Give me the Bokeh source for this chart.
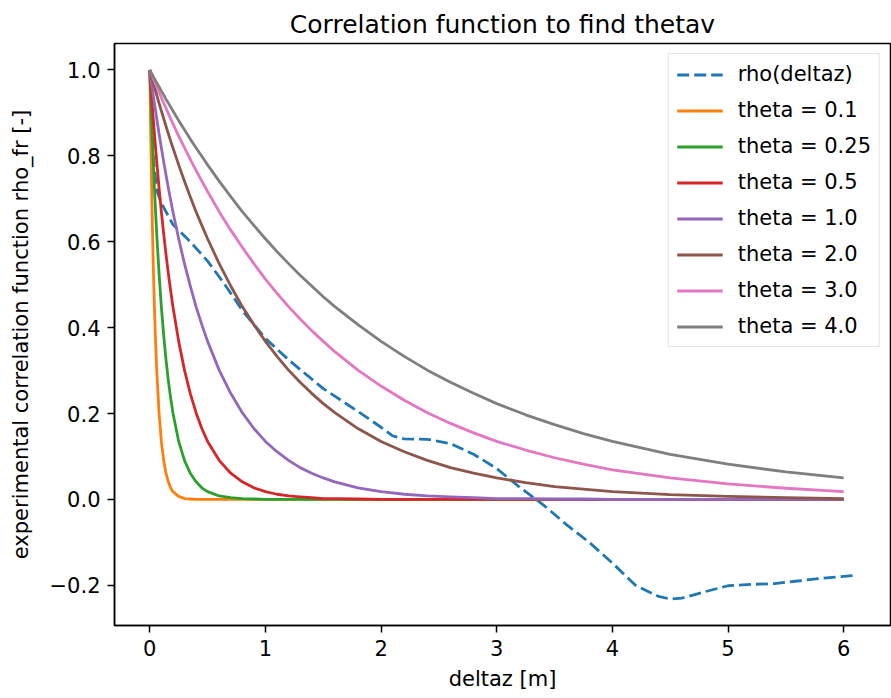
from bokeh.plotting import figure
from bokeh.models import Range1d, FixedTicker, Legend, LegendItem
from bokeh.embed import file_html
from bokeh.resources import INLINE

# ---- experimental correlation function ----
deltaz_rho = [0.0, 0.03, 0.06, 0.1, 0.2, 0.35, 0.5, 0.65, 0.8, 1.0, 1.2, 1.5, 1.8,
              2.0, 2.1, 2.2, 2.4, 2.6, 2.8, 3.0, 3.2, 3.4, 3.6, 3.8, 4.0, 4.2, 4.4,
              4.5, 4.6, 4.8, 5.0, 5.2, 5.4, 5.6, 5.8, 6.0, 6.1]
rho_exp = [1.0, 0.80, 0.72, 0.69, 0.64, 0.60, 0.555, 0.50, 0.44, 0.375, 0.325, 0.258, 0.205,
           0.168, 0.148, 0.141, 0.140, 0.130, 0.105, 0.072, 0.028, -0.012, -0.058, -0.100, -0.148,
           -0.200, -0.226, -0.232, -0.230, -0.215, -0.201, -0.198, -0.196, -0.190, -0.184, -0.179, -0.177]

# ---- theoretical correlation curves ----
deltaz_theta = [0.0, 0.01, 0.02, 0.03, 0.04, 0.05, 0.06, 0.08, 0.1, 0.12, 0.14, 0.16, 0.18, 0.2,
                0.25, 0.3, 0.35, 0.4, 0.45, 0.5,
                0.6, 0.7, 0.8, 0.9, 1.0, 1.1, 1.2, 1.3, 1.4, 1.5, 1.6,
                1.8, 2.0, 2.2, 2.4, 2.6, 2.8, 3.0,
                3.25, 3.5, 3.75, 4.0, 4.5, 5.0, 5.5, 6.0]
rho_theta_0_1 = [1.0, 0.819, 0.670, 0.549, 0.449, 0.368, 0.301, 0.202, 0.135, 0.091, 0.061, 0.041, 0.027, 0.018,
                 0.007, 0.002, 0.001, 0.0, 0.0, 0.0,
                 0.0, 0.0, 0.0, 0.0, 0.0, 0.0, 0.0, 0.0, 0.0, 0.0, 0.0,
                 0.0, 0.0, 0.0, 0.0, 0.0, 0.0, 0.0,
                 0.0, 0.0, 0.0, 0.0, 0.0, 0.0, 0.0, 0.0]
rho_theta_0_25 = [1.0, 0.923, 0.852, 0.787, 0.726, 0.670, 0.619, 0.527, 0.449, 0.383, 0.326, 0.278, 0.237, 0.202,
                  0.135, 0.091, 0.061, 0.041, 0.027, 0.018,
                  0.008, 0.004, 0.002, 0.001, 0.0, 0.0, 0.0, 0.0, 0.0, 0.0, 0.0,
                  0.0, 0.0, 0.0, 0.0, 0.0, 0.0, 0.0,
                  0.0, 0.0, 0.0, 0.0, 0.0, 0.0, 0.0, 0.0]
rho_theta_0_5 = [1.0, 0.961, 0.923, 0.887, 0.852, 0.819, 0.787, 0.726, 0.670, 0.619, 0.571, 0.527, 0.487, 0.449,
                 0.368, 0.301, 0.247, 0.202, 0.165, 0.135,
                 0.091, 0.061, 0.041, 0.027, 0.018, 0.012, 0.008, 0.006, 0.004, 0.002, 0.002,
                 0.001, 0.0, 0.0, 0.0, 0.0, 0.0, 0.0,
                 0.0, 0.0, 0.0, 0.0, 0.0, 0.0, 0.0, 0.0]
rho_theta_1_0 = [1.0, 0.980, 0.961, 0.942, 0.923, 0.905, 0.887, 0.852, 0.819, 0.787, 0.756, 0.726, 0.698, 0.670,
                 0.607, 0.549, 0.497, 0.449, 0.407, 0.368,
                 0.301, 0.247, 0.202, 0.165, 0.135, 0.111, 0.091, 0.074, 0.061, 0.050, 0.041,
                 0.027, 0.018, 0.012, 0.008, 0.006, 0.004, 0.002,
                 0.002, 0.001, 0.001, 0.0, 0.0, 0.0, 0.0, 0.0]
rho_theta_2_0 = [1.0, 0.990, 0.980, 0.970, 0.961, 0.951, 0.942, 0.923, 0.905, 0.887, 0.869, 0.852, 0.835, 0.819,
                 0.779, 0.741, 0.705, 0.670, 0.638, 0.607,
                 0.549, 0.497, 0.449, 0.407, 0.368, 0.333, 0.301, 0.273, 0.247, 0.223, 0.202,
                 0.165, 0.135, 0.111, 0.091, 0.074, 0.061, 0.050,
                 0.039, 0.030, 0.024, 0.018, 0.011, 0.007, 0.004, 0.002]
rho_theta_3_0 = [1.0, 0.993, 0.987, 0.980, 0.974, 0.967, 0.961, 0.948, 0.936, 0.923, 0.911, 0.899, 0.887, 0.875,
                 0.846, 0.819, 0.792, 0.766, 0.741, 0.717,
                 0.670, 0.627, 0.587, 0.549, 0.513, 0.480, 0.449, 0.420, 0.393, 0.368, 0.344,
                 0.301, 0.264, 0.231, 0.202, 0.177, 0.155, 0.135,
                 0.115, 0.097, 0.082, 0.069, 0.050, 0.036, 0.026, 0.018]
rho_theta_4_0 = [1.0, 0.995, 0.990, 0.985, 0.980, 0.975, 0.970, 0.961, 0.951, 0.942, 0.932, 0.923, 0.914, 0.905,
                 0.882, 0.861, 0.839, 0.819, 0.799, 0.779,
                 0.741, 0.705, 0.670, 0.638, 0.607, 0.577, 0.549, 0.522, 0.497, 0.472, 0.449,
                 0.407, 0.368, 0.333, 0.301, 0.273, 0.247, 0.223,
                 0.197, 0.174, 0.153, 0.135, 0.105, 0.082, 0.064, 0.050]

theta_labels = ["theta = 0.1", "theta = 0.25", "theta = 0.5", "theta = 1.0",
                "theta = 2.0", "theta = 3.0", "theta = 4.0"]
theta_series = [rho_theta_0_1, rho_theta_0_25, rho_theta_0_5, rho_theta_1_0,
                rho_theta_2_0, rho_theta_3_0, rho_theta_4_0]
theta_colors = ["#ff7f0e", "#2ca02c", "#d62728", "#9467bd", "#8c564b", "#e377c2", "#7f7f7f"]
rho_color = "#1f77b4"

x_ticks = [0, 1, 2, 3, 4, 5, 6]
y_ticks = [-0.2, 0.0, 0.2, 0.4, 0.6, 0.8, 1.0]
y_tick_labels = ["\u22120.2", "0.0", "0.2", "0.4", "0.6", "0.8", "1.0"]

FONT = "DejaVu Sans"

p = figure(width=891, height=698, output_backend="svg", toolbar_location=None,
           x_range=Range1d(-0.305, 6.405), y_range=Range1d(-0.2936, 1.0616),
           min_border_left=114, min_border_right=1, min_border_top=43, min_border_bottom=73,
           title="Correlation function to find thetav")

p.background_fill_color = "white"
p.border_fill_color = "white"
p.outline_line_color = "black"
p.outline_line_width = 1.5
p.xgrid.visible = False
p.ygrid.visible = False

p.title.text_font = FONT
p.title.text_font_size = "25px"
p.title.text_font_style = "normal"
p.title.text_color = "black"
p.title.align = "center"

for ax in (p.xaxis[0], p.yaxis[0]):
    ax.major_label_text_font = FONT
    ax.major_label_text_font_size = "21px"
    ax.major_label_text_color = "black"
    ax.axis_label_text_font = FONT
    ax.axis_label_text_font_size = "21px"
    ax.axis_label_text_font_style = "normal"
    ax.axis_label_text_color = "black"
    ax.major_tick_out = 7
    ax.major_tick_in = 0
    ax.minor_tick_out = 0
    ax.minor_tick_in = 0
    ax.major_tick_line_width = 1.5
    ax.major_tick_line_color = "black"
    ax.axis_line_color = "black"
    ax.axis_line_width = 1.5
    ax.major_label_standoff = 7

p.xaxis.ticker = FixedTicker(ticks=x_ticks)
p.xaxis.axis_label = "deltaz [m]"
p.xaxis.axis_label_standoff = 8
p.yaxis.ticker = FixedTicker(ticks=y_ticks)
p.yaxis.major_label_overrides = {t: lab for t, lab in zip(y_ticks, y_tick_labels)}
p.yaxis.axis_label = "experimental correlation function rho_fr [-]"
p.yaxis.axis_label_standoff = 14

items = []
r = p.line(deltaz_rho, rho_exp, line_color=rho_color, line_width=2.8, line_dash="12 5")
items.append(LegendItem(label="rho(deltaz)", renderers=[r]))
for lab, ys, col in zip(theta_labels, theta_series, theta_colors):
    r = p.line(deltaz_theta, ys, line_color=col, line_width=2.8, line_join="round")
    items.append(LegendItem(label=lab, renderers=[r]))

legend = Legend(items=items, location="top_right")
legend.label_text_font = FONT
legend.label_text_font_size = "21px"
legend.label_text_color = "black"
legend.glyph_width = 46
legend.glyph_height = 21
legend.label_height = 21
legend.label_standoff = 15
legend.spacing = 12
legend.padding = 8
legend.margin = 10
legend.border_line_color = "#cccccc"
legend.border_line_width = 1.5
legend.background_fill_alpha = 0.8
p.add_layout(legend)

open("out.html", "w").write(file_html(p, INLINE))
